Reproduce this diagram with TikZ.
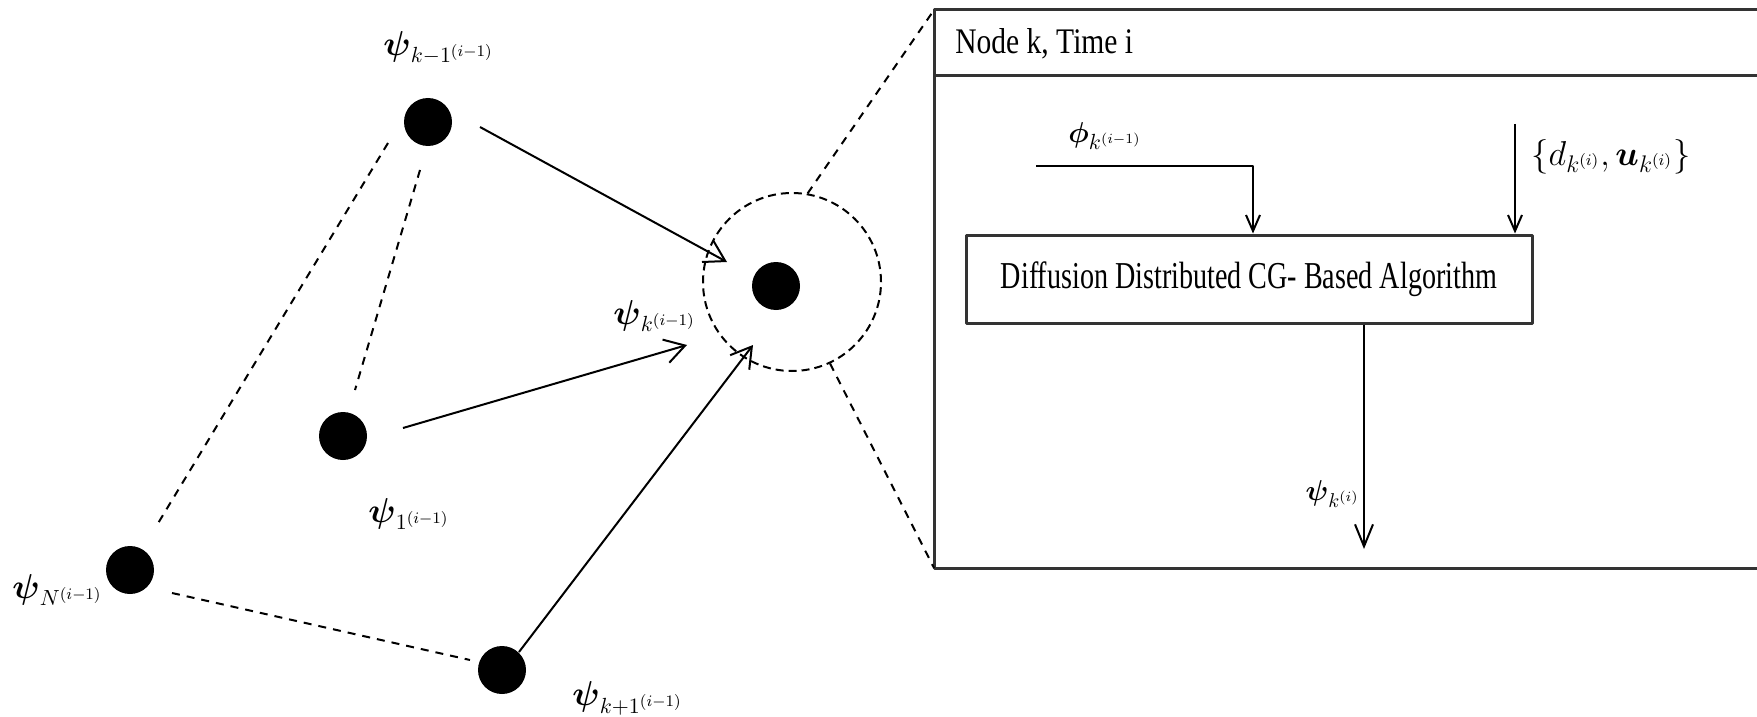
\documentclass[tikz,border=0pt]{standalone}
\usepackage{amsmath}
\usepackage{fontspec}
\setmainfont{Liberation Serif}
\usetikzlibrary{arrows.meta}
\begin{document}
\begin{tikzpicture}[x=0.5pt,y=-0.5pt,line join=round,>={Straight Barb[length=10pt,width=12pt]}]
\useasboundingbox (0,0) rectangle (1757,717);
\tikzset{dot/.style={circle,fill,inner sep=0,minimum size=24pt},
lnk/.style={dash pattern=on 4pt off 3.5pt,line width=1pt},
lbl/.style={inner sep=0,anchor=west,font=\fontsize{16}{18}\selectfont},
frame/.style={line width=1.5pt,draw=black!80},
flow/.style={line width=1pt,-{Straight Barb[length=8pt,width=7pt]}}}
\def\ps#1#2{$\boldsymbol{\psi}_{#1^{(#2)}}$}
\foreach \n/\x/\y in {nprev/428/122,none/343/436,nlast/130/570,nnext/502/670,nk/776/286}
  \node[dot] (\n) at (\x,\y) {};
\node[circle,draw,line width=1pt,dash pattern=on 4pt off 2.5pt,inner sep=0,minimum size=89pt] (zoomc) at (792,282) {};
\node[lbl] (lprev) at (383,48) {\ps{k-1}{i-1}};
\node[lbl] (lk) at (613,316) {\ps{k}{i-1}};
\node[lbl] (lone) at (368,514) {\ps{1}{i-1}};
\node[lbl] (llast) at (12,590) {\ps{N}{i-1}};
\node[lbl] (lnext) at (572,698) {\ps{k+1}{i-1}};
\draw[line width=1pt,->] ([shift={(52,5)}]nprev.center) -- ([shift={(-49,-24)}]nk.center);
\draw[line width=1pt,->] ([shift={(60,-8)}]none.center) -- ([shift={(-89,59)}]nk.center);
\draw[line width=1pt,->] ([shift={(17,-18)}]nnext.center) -- ([shift={(-23,59)}]nk.center);
\draw[lnk] ([shift={(-40,21)}]nprev.center) -- ([shift={(27,-45)}]nlast.center);
\draw[lnk] ([shift={(-8,48)}]nprev.center) -- ([shift={(12,-46)}]none.center);
\draw[lnk] ([shift={(42,23)}]nlast.center) -- ([shift={(-32,-10)}]nnext.center);
\coordinate (boxtl) at (934,10);
\coordinate (boxbl) at (934,568);
\coordinate (boxtr) at (1757,10);
\coordinate (boxbr) at (1757,568);
\coordinate (hdrl) at (934,76);
\coordinate (hdrr) at (1757,76);
\draw[frame] (boxtr) -- (boxtl) -- (boxbl) -- (boxbr);
\draw[frame] (hdrl) -- (hdrr);
\draw[lnk] (zoomc.80) -- (boxtl);
\draw[lnk] (zoomc.-65) -- (boxbl);
\node[anchor=west,inner sep=0,font=\fontsize{18}{20}\selectfont] (hdr) at (955,44) {\scalebox{0.82}[1]{Node k, Time i}};
\node[frame,text=black,minimum width=283pt,minimum height=44pt,inner sep=0,font=\fontsize{19}{21}\selectfont] (algo) at (1249,279) {\scalebox{0.74}[1]{Diffusion Distributed CG- Based Algorithm}};
\coordinate (phin) at (1036,166);
\draw[flow] (phin) -| ([shift={(4,0)}]algo.north);
\node[anchor=west,inner sep=0,font=\fontsize{15}{17}\selectfont] (lphi) at (1068,136) {$\boldsymbol{\phi}_{k^{(i-1)}}$};
\coordinate (dun) at (1515,124);
\draw[flow] (dun) -- (dun |- algo.north);
\node[anchor=west,inner sep=0,font=\fontsize{17}{19}\selectfont] (ldu) at (1531,157) {$\{d_{k^{(i)}},\boldsymbol{u}_{k^{(i)}}\}$};
\coordinate (outend) at (1364,549);
\draw[line width=1pt,-{Straight Barb[length=11pt,width=9pt]}] (algo.south -| outend) -- (outend);
\node[anchor=east,inner sep=0,font=\fontsize{14}{16}\selectfont] (lout) at (1360,494) {$\boldsymbol{\psi}_{k^{(i)}}$};
\end{tikzpicture}
\end{document}
